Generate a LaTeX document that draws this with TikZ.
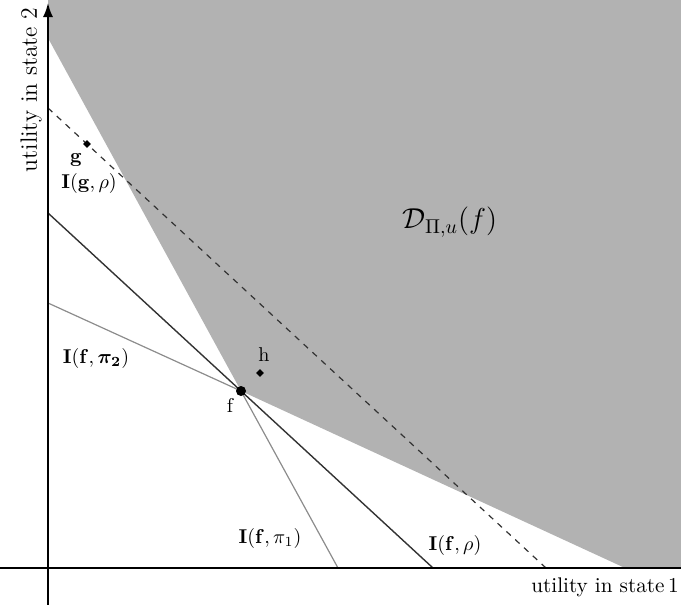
\documentclass[tikz,border=0pt]{standalone}
\usepackage{amsmath,amssymb,bm}
\usetikzlibrary{arrows.meta,shapes.geometric}
\begin{document}
\begin{tikzpicture}[x=0.5pt,y=-0.5pt,
  axis/.style={line width=0.9pt,black},
  rholine/.style={line width=0.7pt,black!80},
  piline/.style={line width=0.6pt,black!45},
  dashline/.style={line width=0.6pt,black!80,dash pattern=on 3pt off 3pt},
  lbl/.style={inner sep=0pt,font=\normalsize},
  pt/.style={fill=black,inner sep=0pt}]
\useasboundingbox (0,0) rectangle (681,605);
% named points
\coordinate (O) at (48,568);
\coordinate (f) at (241,391);
\coordinate (topB) at (48,38);
\coordinate (ytop) at (48,3);
\coordinate (ybot) at (48,605);
\coordinate (xl) at (0,568);
\coordinate (xr) at (681,568);
\coordinate (pi2a) at (48,303);
\coordinate (pi2b) at (625,568);
\coordinate (pi1b) at (338,568);
\coordinate (rhoa) at (48,213);
\coordinate (rhob) at (433,568);
\coordinate (dasha) at (48,108);
\coordinate (dashb) at (546,568);
% gray region
\fill[black!30] (48,0) -- (topB) -- (f) -- (pi2b) -- (681,568) -- (681,0) -- cycle;
% lines
\draw[piline] (pi2a) -- (f);
\draw[piline] (f) -- (pi1b);
\draw[rholine] (rhoa) -- (rhob);
\draw[dashline] (dasha) -- (dashb);
% axes
\draw[axis] (xl) -- (xr);
\draw[axis,-{Latex[length=7pt,width=5pt]}] (ybot) -- (ytop);
% points
\node[pt,circle,minimum size=5pt] (fp) at (f) {};
\node[pt,diamond,minimum size=4pt,shape aspect=1] (gp) at (87,144) {};
\node[pt,diamond,minimum size=4pt,shape aspect=1] (hp) at (260,373) {};
% labels
\node[lbl] (gl) at (76,160) {$\mathbf{g}$};
\node[lbl] (igrho) at (89,183) {$\mathbf{I}(\mathbf{g},\rho)$};
\node[lbl] (hl) at (264,355) {h};
\node[lbl] (fl) at (230,405) {f};
\node[lbl] (ifpi2) at (96,358) {$\mathbf{I}(\mathbf{f},\bm{\pi_2})$};
\node[lbl] (ifpi1) at (270,538) {$\mathbf{I}(\mathbf{f},\pi_1)$};
\node[lbl] (ifrho) at (455,545) {$\mathbf{I}(\mathbf{f},\rho)$};
\node[lbl,font=\Large] (D) at (450,222) {$\mathcal{D}_{\Pi,u}(f)$};
\node[lbl,font=\fontsize{10.6}{13}\selectfont] (xlab) at (605,587) {utility in state\,1};
\node[lbl,rotate=90,font=\fontsize{11.8}{14}\selectfont] (ylab) at (31,90) {utility in state 2};
\end{tikzpicture}
\end{document}
